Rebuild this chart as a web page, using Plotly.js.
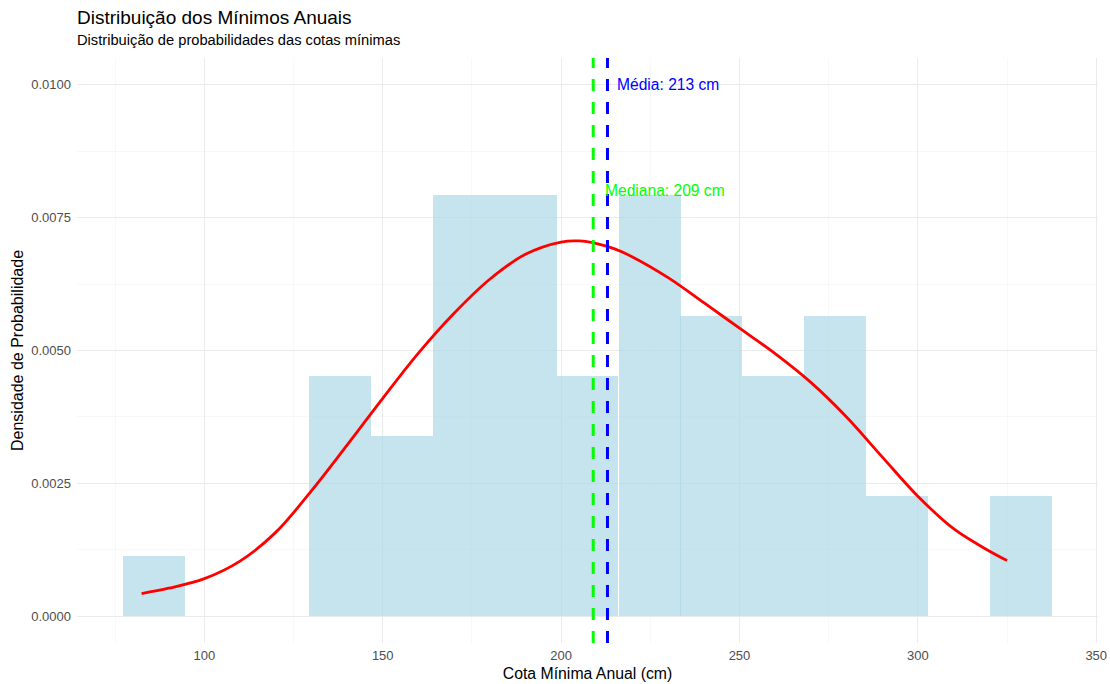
<!DOCTYPE html>
<html>
<head>
<meta charset="utf-8">
<script src="https://cdn.plot.ly/plotly-3.0.1.min.js"></script>
<style>html,body{margin:0;padding:0;background:#fff;}#chart{width:1110px;height:684px;}</style>
</head>
<body>
<div id="chart"></div>
<script>
// Histogram (density) bins
const binCenters = [86.0, 103.3, 120.7, 138.0, 155.4, 172.7, 190.1, 207.4, 224.8, 242.1, 259.5, 276.8, 294.2, 311.5, 328.9];
const binDensity = [0.00113, 0, 0, 0.00452, 0.00339, 0.00792, 0.00792, 0.00452, 0.00792, 0.00565, 0.00452, 0.00565, 0.00226, 0, 0.00226];
const binWidth = 17.34;

// Kernel density curve
const densX = [82.4, 90, 100, 110, 120, 130, 140, 150, 160, 170, 180, 190, 200, 205, 210, 215, 220, 230, 240, 250, 260, 270, 280, 290, 300, 310, 320, 325];
const densY = [0.00043, 0.00053, 0.00071, 0.00104, 0.00158, 0.00236, 0.00322, 0.00410, 0.00495, 0.00570, 0.00634, 0.00681, 0.00704, 0.00706, 0.00701, 0.00691, 0.00676, 0.00637, 0.00590, 0.00542, 0.00494, 0.00440, 0.00375, 0.00300, 0.00226, 0.00165, 0.00123, 0.00105];

const meanVal = 213;
const medianVal = 209;
const meanLabel = "Média: 213 cm";
const medianLabel = "Mediana: 209 cm";
const labelY = [0.0100, 0.0080];

const yTicks = [0, 0.0025, 0.005, 0.0075, 0.01];
const yTickText = ["0.0000", "0.0025", "0.0050", "0.0075", "0.0100"];
const xTicks = [100, 150, 200, 250, 300, 350];

const FONT = "Liberation Sans, Arial, sans-serif";

const traces = [
  {
    type: "bar",
    x: binCenters,
    y: binDensity,
    width: binCenters.map(() => binWidth),
    marker: { color: "rgba(173,216,230,0.7)", line: { width: 0 } },
    hoverinfo: "x+y",
    showlegend: false
  },
  {
    type: "scatter",
    mode: "lines",
    x: densX,
    y: densY,
    line: { color: "#FF0000", width: 2.8, shape: "spline", smoothing: 1 },
    showlegend: false
  }
];

const layout = {
  width: 1110,
  height: 684,
  margin: { l: 77, r: 12, t: 58, b: 41 },
  paper_bgcolor: "#ffffff",
  plot_bgcolor: "#ffffff",
  font: { family: FONT, color: "#000000" },
  bargap: 0,
  title: {
    text: "Distribuição dos Mínimos Anuais",
    font: { family: FONT, size: 19, color: "#000000" },
    xref: "paper", x: 0, xanchor: "left",
    yref: "container", y: 0.974, yanchor: "middle"
  },
  xaxis: {
    range: [64.3, 350.5],
    tickvals: xTicks,
    ticktext: xTicks.map(String),
    showgrid: true, gridcolor: "#EBEBEB", gridwidth: 1.1,
    minor: { dtick: 25, tick0: 75, showgrid: true, gridcolor: "#F4F4F4", gridwidth: 0.6 },
    zeroline: false, showline: false, ticks: "",
    ticklabelstandoff: 3,
    tickfont: { family: FONT, size: 13, color: "#4D4D4D" },
    title: { text: "Cota Mínima Anual (cm)", font: { family: FONT, size: 15.8, color: "#000000" }, standoff: 5 }
  },
  yaxis: {
    range: [-0.0005, 0.0105],
    tickvals: yTicks,
    ticktext: yTickText,
    showgrid: true, gridcolor: "#EBEBEB", gridwidth: 1.1,
    minor: { dtick: 0.00125, tick0: 0.00125, showgrid: true, gridcolor: "#F4F4F4", gridwidth: 0.6 },
    zeroline: false, showline: false, ticks: "",
    ticklabelstandoff: 5,
    tickfont: { family: FONT, size: 13, color: "#4D4D4D" },
    title: { text: "Densidade de Probabilidade", font: { family: FONT, size: 16, color: "#000000" }, standoff: 3 }
  },
  shapes: [
    { type: "line", xref: "x", yref: "paper", x0: medianVal, x1: medianVal, y0: 0, y1: 1,
      line: { color: "#00FF00", width: 3, dash: "12px,11px" } },
    { type: "line", xref: "x", yref: "paper", x0: meanVal, x1: meanVal, y0: 0, y1: 1,
      line: { color: "#0000FF", width: 3, dash: "12px,11px" } }
  ],
  annotations: [
    { text: "Distribuição de probabilidades das cotas mínimas", xref: "paper", yref: "paper",
      x: 0, xanchor: "left", xshift: -2, y: 1.03, yanchor: "middle", showarrow: false,
      font: { family: FONT, size: 14.7, color: "#000000" } },
    { text: meanLabel, xref: "x", yref: "y", x: meanVal, y: labelY[0], xanchor: "left", yanchor: "middle",
      xshift: 8, showarrow: false, font: { family: FONT, size: 15.6, color: "#0000FF" } },
    { text: medianLabel, xref: "x", yref: "y", x: medianVal, y: labelY[1], xanchor: "left", yanchor: "middle",
      xshift: 10, showarrow: false, font: { family: FONT, size: 15.6, color: "#00FF00" } }
  ]
};

Plotly.newPlot("chart", traces, layout, { displayModeBar: false, staticPlot: true });
</script>
</body>
</html>
